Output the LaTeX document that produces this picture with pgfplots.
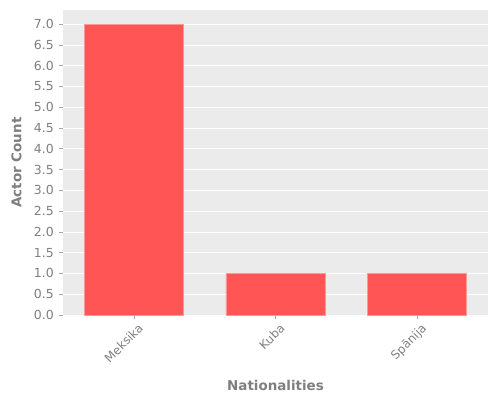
\documentclass[border=0pt]{standalone}
\usepackage{pgfplots}
\pgfplotsset{compat=1.18}
\usepackage{fontspec}
\setmainfont{DejaVu Sans}
\definecolor{bgc}{HTML}{EBEBEB}
\definecolor{barc}{HTML}{FF5555}
\definecolor{txtc}{HTML}{7F7F7F}
\begin{document}
\begin{tikzpicture}[x=1bp,y=1bp]
\path[use as bounding box] (-63,-85) rectangle (437,315);
\begin{axis}[
  at={(0,0)}, anchor=south west,
  scale only axis,
  width=425bp, height=305bp,
  axis background/.style={fill=bgc},
  axis line style={draw=none},
  xmin=-0.5, xmax=2.5,
  ymin=0, ymax=7.34,
  ytick={0,0.5,...,7.0},
  yticklabel style={/pgf/number format/.cd,fixed,fixed zerofill,precision=1,/tikz/.cd},
  /pgf/number format/assume math mode=true,
  xtick={0,1,2},
  xticklabels={Meksika,Kuba,Spānija},
  xticklabel style={rotate=45,anchor=north east,font=\fontsize{12}{13}\selectfont,text=txtc,inner sep=2bp,xshift=2bp,yshift=-3bp},
  yticklabel style={font=\fontsize{12.5}{13}\selectfont,text=txtc,inner sep=2bp,xshift=-3bp},
  tick align=outside,
  major tick length=4bp,
  tick style={draw=txtc!70,line width=0.6bp},
  xtick pos=bottom, ytick pos=left,
  ymajorgrids, grid style={draw=white,line width=0.8bp},
  ylabel={\textbf{Actor Count}},
  xlabel={\textbf{Nationalities}},
  label style={font=\fontsize{13.5}{15}\selectfont,text=txtc},
  ylabel style={yshift=7bp},
  xlabel style={yshift=-10bp},
  ybar, bar width=0.7,
]
\addplot[fill=barc, draw=barc!60!white, line width=0.6bp] coordinates {(0,7) (1,1) (2,1)};
\end{axis}
\end{tikzpicture}
\end{document}
